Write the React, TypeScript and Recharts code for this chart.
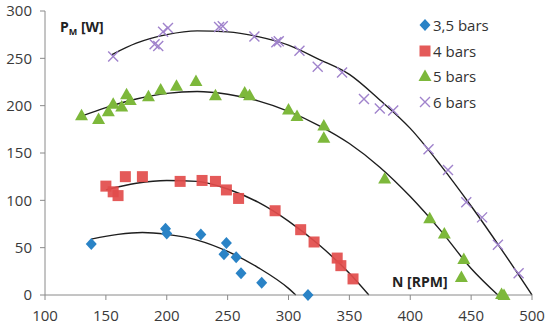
import { ComposedChart, Customized, Legend, Line, Scatter, XAxis, YAxis } from 'recharts';

const xTicks = [100, 150, 200, 250, 300, 350, 400, 450, 500];
const yTicks = [0, 50, 100, 150, 200, 250, 300];

// measured points (N [RPM], P_M [W])
const n35 = [138, 199, 200, 228, 249, 247, 257, 261, 278, 316];
const p35 = [54, 70, 65, 64, 55, 43, 40, 23, 13, 0];

const n4 = [150, 156, 160, 166, 180, 211, 229, 240, 249, 259, 289, 310, 321, 340, 343, 353];
const p4 = [115, 109, 105, 125, 125, 120, 121, 120, 111, 102, 89, 69, 56, 39, 31, 17];

const n5 = [130, 144, 152, 156, 163, 167, 170, 185, 195, 208, 224, 240, 264, 268, 300, 307, 329, 329, 379, 416, 428, 444, 442, 475, 477];
const p5 = [190, 186, 194, 202, 199, 212, 206, 210, 217, 221, 226, 211, 214, 211, 196, 189, 179, 166, 123, 81, 65, 38, 19, 1, 0];

const n6 = [156, 190, 193, 197, 201, 243, 246, 272, 290, 292, 309, 324, 344, 362, 375, 386, 415, 431, 446, 459, 472, 489];
const p6 = [252, 265, 263, 278, 282, 283, 284, 273, 267, 268, 258, 241, 235, 207, 197, 195, 154, 132, 98, 82, 53, 23];

// trend curves
const t35n = [138, 160, 180, 200, 225, 250, 275, 300, 306];
const t35p = [59, 64, 66, 64, 58, 46, 29, 7, 0];

const t4n = [150, 175, 200, 225, 250, 275, 300, 325, 350, 366];
const t4p = [111, 118, 121, 120, 112, 98, 78, 53, 23, 0];

const t5n = [130, 150, 175, 200, 225, 250, 275, 300, 325, 350, 375, 400, 425, 450, 472];
const t5p = [189, 198, 207, 213, 215, 212, 205, 194, 179, 160, 135, 104, 68, 28, 0];

const t6n = [155, 175, 200, 225, 250, 275, 300, 325, 350, 375, 400, 425, 450, 475, 500];
const t6p = [254, 266, 275, 279, 278, 273, 264, 249, 233, 206, 176, 137, 94, 48, 0];

const rows = (n: number[], p: number[]) => n.map((v, i) => ({ n: v, p: p[i] }));

type Kind = 'diamond' | 'square' | 'triangle' | 'x';

const series: { name: string; color: string; kind: Kind; data: any[]; trend: any[] }[] = [
  { name: '3,5 bars', color: '#2a83c6', kind: 'diamond', data: rows(n35, p35), trend: rows(t35n, t35p) },
  { name: '4 bars', color: '#e24c4b', kind: 'square', data: rows(n4, p4), trend: rows(t4n, t4p) },
  { name: '5 bars', color: '#7db83b', kind: 'triangle', data: rows(n5, p5), trend: rows(t5n, t5p) },
  { name: '6 bars', color: '#a083cc', kind: 'x', data: rows(n6, p6), trend: rows(t6n, t6p) },
];

const FONT = '"Open Sans", "Liberation Sans", sans-serif';

function Marker({ kind, color, cx, cy }: { kind: Kind; color: string; cx: number; cy: number }) {
  if (kind === 'diamond') {
    return <polygon points={`${cx},${cy - 6} ${cx + 5.5},${cy} ${cx},${cy + 6} ${cx - 5.5},${cy}`} fill={color} />;
  }
  if (kind === 'square') {
    return <rect x={cx - 5.5} y={cy - 5.5} width={11} height={11} fill={color} fillOpacity={0.92} />;
  }
  if (kind === 'triangle') {
    return <polygon points={`${cx},${cy - 6.5} ${cx + 6.5},${cy + 5} ${cx - 6.5},${cy + 5}`} fill={color} />;
  }
  return (
    <path
      d={`M${cx - 5},${cy - 5}L${cx + 5},${cy + 5}M${cx + 5},${cy - 5}L${cx - 5},${cy + 5}`}
      stroke={color}
      strokeWidth={1.4}
      fill="none"
    />
  );
}

function LegendBox() {
  return (
    <div style={{ fontFamily: FONT, fontSize: 15, color: '#333' }}>
      {series.map((s) => (
        <div key={s.name} style={{ display: 'flex', alignItems: 'center', height: 25.8 }}>
          <svg width={14} height={14} style={{ marginRight: 1 }}>
            <Marker kind={s.kind} color={s.color} cx={7} cy={7} />
          </svg>
          <span>{s.name}</span>
        </div>
      ))}
    </div>
  );
}

function AxisTitles() {
  return (
    <g fontFamily={FONT} fontWeight="bold" fill="#222">
      <text x={60} y={32} fontSize={14}>
        P<tspan fontSize={9} dy={3}>M</tspan>
        <tspan dy={-3}> [W]</tspan>
      </text>
      <text x={392} y={287} fontSize={14}>
        N [RPM]
      </text>
    </g>
  );
}

export default function App() {
  const tick = { fontSize: 15, fill: '#3a3a3a', fontFamily: FONT };
  return (
    <div style={{ position: 'absolute', left: 0, top: 0, width: 550, height: 330, background: '#fff' }}>
      <ComposedChart width={550} height={330} margin={{ top: 11, right: 18, bottom: 0, left: 0 }}>
        <XAxis
          type="number"
          dataKey="n"
          domain={[100, 500]}
          ticks={xTicks}
          interval={0}
          height={35}
          tickSize={5}
          tickMargin={10}
          tick={tick}
          stroke="#8a8a8a"
        />
        <YAxis
          type="number"
          dataKey="p"
          domain={[0, 300]}
          ticks={yTicks}
          interval={0}
          width={45}
          tickSize={5}
          tickMargin={8}
          tick={tick}
          stroke="#8a8a8a"
        />
        {series.map((s) => (
          <Scatter
            key={s.name}
            name={s.name}
            data={s.data}
            dataKey="p"
            isAnimationActive={false}
            shape={(props: any) => <Marker kind={s.kind} color={s.color} cx={props.cx} cy={props.cy} />}
          />
        ))}
        {series.map((s) => (
          <Line
            key={`trend-${s.name}`}
            data={s.trend}
            dataKey="p"
            type="monotone"
            stroke="#1e1e1e"
            strokeWidth={1.4}
            dot={false}
            activeDot={false}
            legendType="none"
            isAnimationActive={false}
          />
        ))}
        <Customized component={AxisTitles} />
        <Legend
          layout="vertical"
          align="center"
          verticalAlign="middle"
          wrapperStyle={{ top: 12, left: 418, width: 110, height: 104 }}
          content={() => <LegendBox />}
        />
      </ComposedChart>
    </div>
  );
}
